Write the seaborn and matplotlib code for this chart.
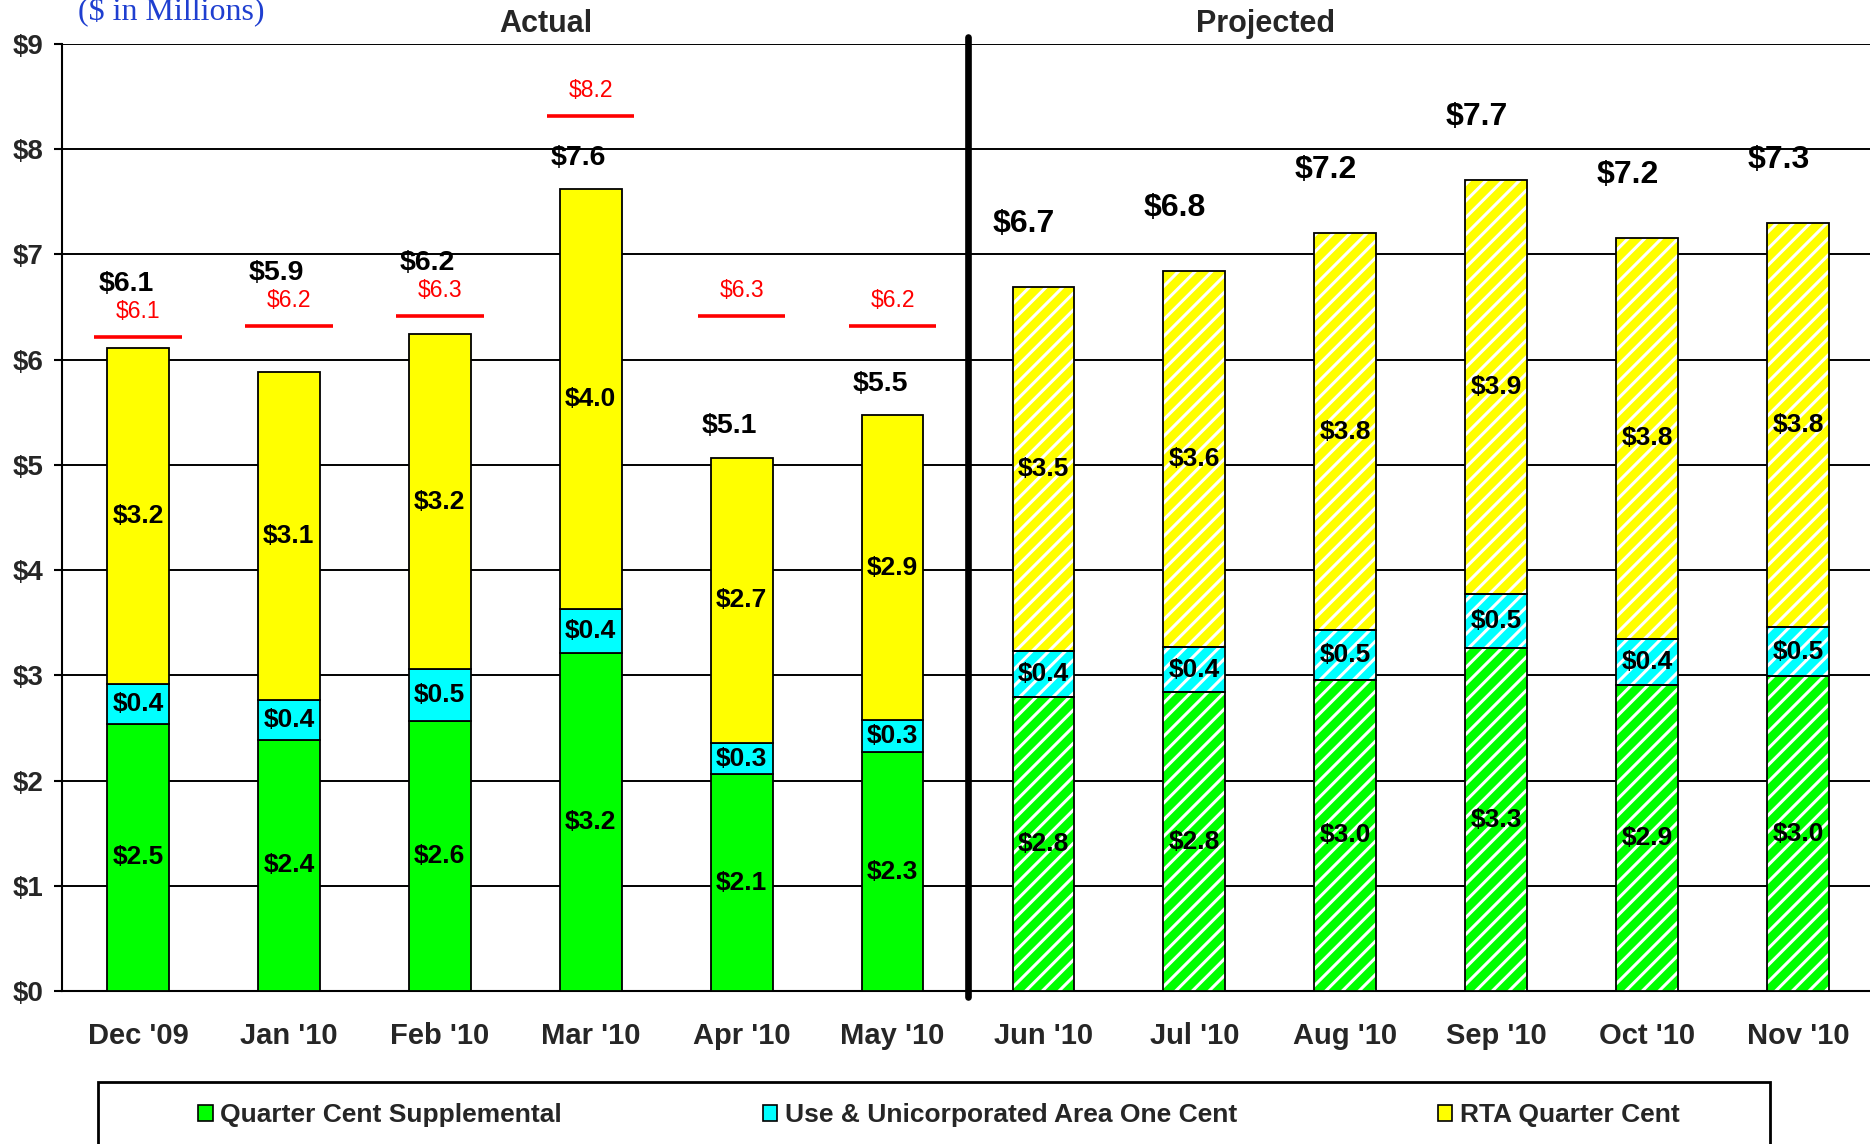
import numpy as np
import matplotlib
matplotlib.use("Agg")
import matplotlib.pyplot as plt
from matplotlib.patches import Patch, Rectangle
import seaborn as sns

months = ["Dec '09", "Jan '10", "Feb '10", "Mar '10", "Apr '10", "May '10",
          "Jun '10", "Jul '10", "Aug '10", "Sep '10", "Oct '10", "Nov '10"]
n_actual = 6

quarter_cent = [2.54, 2.39, 2.57, 3.21, 2.06, 2.27, 2.79, 2.84, 2.96, 3.26, 2.91, 2.99]
use_unincorp = [0.38, 0.38, 0.49, 0.42, 0.30, 0.31, 0.44, 0.43, 0.47, 0.51, 0.44, 0.47]
rta_quarter = [3.19, 3.11, 3.18, 3.99, 2.71, 2.89, 3.46, 3.57, 3.77, 3.94, 3.81, 3.84]

# budget targets for the actual months (red markers)
targets = [6.1, 6.2, 6.3, 8.2, 6.3, 6.2]

series_names = ["Quarter Cent Supplemental", "Use & Unicorporated Area One Cent", "RTA Quarter Cent"]
series_colors = ["#00FF00", "#00FFFF", "#FFFF00"]

sns.set_style("white")
plt.rcParams['font.family'] = ['Liberation Sans', 'DejaVu Sans']
plt.rcParams['hatch.linewidth'] = 2.2

fig = plt.figure(figsize=(18.7, 11.44), dpi=100)
ax = fig.add_axes([0.0334, 0.1337, 0.9685, 0.8278])

x = np.arange(len(months))
width = 0.41
layers = [np.array(quarter_cent), np.array(use_unincorp), np.array(rta_quarter)]
bottom = np.zeros(len(months))
for vals, color in zip(layers, series_colors):
    for i in range(len(months)):
        if i < n_actual:
            ax.bar(x[i], vals[i], width, bottom=bottom[i], color=color,
                   edgecolor="black", linewidth=1.3, zorder=3)
        else:
            ax.bar(x[i], vals[i], width, bottom=bottom[i], color=color,
                   edgecolor="white", hatch="//", linewidth=0, zorder=3)
            ax.bar(x[i], vals[i], width, bottom=bottom[i], color="none",
                   edgecolor="black", linewidth=1.3, zorder=4)
        ax.text(x[i], bottom[i] + vals[i] / 2, f"${vals[i]:.1f}", ha="center", va="center",
                fontsize=19, fontweight="bold", color="black", zorder=5)
    bottom = bottom + vals

totals = bottom

# red target markers
lift = 0.12
for i, t in enumerate(targets):
    ax.hlines(t + lift, x[i] - 0.29, x[i] + 0.29, color="red", linewidth=2.6, zorder=5)
    ax.text(x[i], t + lift + 0.24, f"${t:.1f}", ha="center", va="center",
            fontsize=16.5, color="red", zorder=6)

# totals above bars
for i, tot in enumerate(totals):
    if i < n_actual:
        y = tot + 0.3
        if targets[i] + lift < tot + 0.6:
            y = targets[i] + lift + 0.5
        ax.text(x[i] - 0.08, y, f"${tot:.1f}", ha="center", va="center",
                fontsize=20.5, fontweight="bold", color="black", zorder=6)
    else:
        ax.text(x[i] - 0.13, tot + 0.6, f"${tot:.1f}", ha="center", va="center",
                fontsize=23, fontweight="bold", color="black", zorder=6)

ax.set_xlim(-0.5, 11.5)
ax.set_ylim(0, 9)
ax.set_yticks(range(10))
ax.set_yticklabels([f"${v}" for v in range(10)], fontsize=20, fontweight="bold")
ax.set_xticks(x)
ax.set_xticklabels(months, fontsize=21, fontweight="bold")
ax.set_xticks(np.arange(-0.5, 12, 1), minor=True)
ax.tick_params(axis="x", which="major", length=0, pad=22)
ax.tick_params(axis="x", which="minor", length=6, width=1.5, direction="out", color="black")
ax.tick_params(axis="y", length=6, width=1.5, direction="out", color="black", pad=8, left=True)
ax.yaxis.grid(True, color="black", linewidth=1.4, zorder=0)
ax.xaxis.grid(False)
ax.set_axisbelow(True)
for s in ["top", "right"]:
    ax.spines[s].set_visible(False)
for s in ["left", "bottom"]:
    ax.spines[s].set_color("black")
    ax.spines[s].set_linewidth(1.5)

# divider between actual and projected
ax.plot([5.5, 5.5], [-0.06, 9.07], color="black", linewidth=4.8, clip_on=False, zorder=7)

ax.text(2.7, 1.021, "Actual", transform=ax.get_xaxis_transform(), ha="center", va="center",
        fontsize=22, fontweight="bold")
ax.text(7.47, 1.021, "Projected", transform=ax.get_xaxis_transform(), ha="center", va="center",
        fontsize=22, fontweight="bold")

fig.text(78 / 1870, 1 - 20 / 1144, "($ in Millions)", fontsize=23, color="#1f3fd0",
         family=["Liberation Serif", "DejaVu Serif"], ha="left", va="baseline")

# legend box
fig.patches.append(Rectangle((98 / 1870, -0.05), (1770 - 98) / 1870, 0.05 + 62 / 1144,
                             transform=fig.transFigure, facecolor="white", edgecolor="black",
                             linewidth=2, clip_on=False))
handles = [Patch(facecolor=c, edgecolor="black", linewidth=1.2) for c in series_colors]
fig.legend(handles, series_names, loc="center left", bbox_to_anchor=(198 / 1870, 1 - 1115 / 1144),
           ncol=3, frameon=False, prop={"size": 19, "weight": "bold"}, borderpad=0,
           borderaxespad=0, handlelength=0.55, handleheight=0.55, handletextpad=0.3,
           columnspacing=7.6)

fig.savefig("out.png", dpi=100)
